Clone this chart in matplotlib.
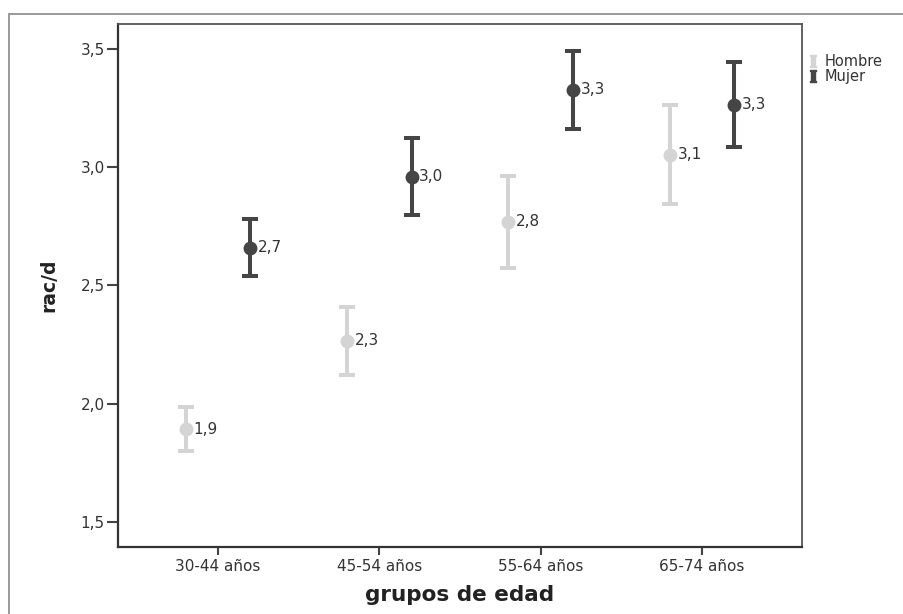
import matplotlib
matplotlib.use("Agg")
import matplotlib.pyplot as plt
from matplotlib.lines import Line2D
from matplotlib.patches import Rectangle
import numpy as np

plt.rcParams['font.family'] = ['DejaVu Sans']
plt.rcParams['mathtext.fontset'] = 'dejavuserif'

categories = ['30-44 años', '45-54 años', '55-64 años', '65-74 años']
series_names = ['Hombre', 'Mujer']
hombre_mean = [1.89, 2.265, 2.77, 3.055]
hombre_low = [1.80, 2.12, 2.575, 2.845]
hombre_high = [1.985, 2.41, 2.965, 3.265]
mujer_mean = [2.66, 2.96, 3.33, 3.265]
mujer_low = [2.54, 2.80, 3.165, 3.085]
mujer_high = [2.78, 3.125, 3.495, 3.445]
value_labels_h = ['1,9', '2,3', '2,8', '3,1']
value_labels_m = ['2,7', '3,0', '3,3', '3,3']
yticks = [1.5, 2.0, 2.5, 3.0, 3.5]
ytick_labels = ['1,5', '2,0', '2,5', '3,0', '3,5']

W, H = 904, 614
fig = plt.figure(figsize=(W / 100, H / 100), dpi=100)
ax = fig.add_axes([118 / W, 1 - 547 / H, 684 / W, 523 / H])

# outer frame
fig.add_artist(Rectangle((9 / W, -0.2), 2, 1.2 - 14 / H, transform=fig.transFigure,
                         fill=False, edgecolor='#9a9a9a', lw=1.4, clip_on=False))

x = np.arange(len(categories))
off = 0.2
col_h = '#d4d4d4'
col_m = '#454545'
txt_col = '#333333'

for xs, mean, lo, hi, col, labs in [
    (x - off, hombre_mean, hombre_low, hombre_high, col_h, value_labels_h),
    (x + off, mujer_mean, mujer_low, mujer_high, col_m, value_labels_m),
]:
    mean = np.array(mean); lo = np.array(lo); hi = np.array(hi)
    ax.errorbar(xs, mean, yerr=[mean - lo, hi - mean], fmt='o', color=col,
                ecolor=col, elinewidth=2.9, capsize=5.8, capthick=2.9,
                markersize=9, zorder=3)
    for xi, yi, lab in zip(xs, mean, labs):
        ax.annotate(lab, (xi, yi), xytext=(5.5, 0), textcoords='offset points',
                    ha='left', va='center', fontsize=11, color=txt_col)

ax.set_xlim(-0.62, 3.62)
ax.set_ylim(1.392, 3.608)
ax.set_xticks(x)
ax.set_xticklabels(categories, fontsize=11, color=txt_col)
ax.set_yticks(yticks)
ax.set_yticklabels(ytick_labels, fontsize=11, color=txt_col)
ax.tick_params(axis='y', length=8, width=1.5, color='#444444', pad=1.5)
ax.tick_params(axis='x', length=5.8, width=1.5, color='#444444', pad=3)
for s in ax.spines.values():
    s.set_color('#555555')
    s.set_linewidth(1.3)
ax.spines['left'].set_color('#333333')
ax.spines['bottom'].set_color('#333333')
ax.spines['left'].set_linewidth(1.6)
ax.spines['bottom'].set_linewidth(1.6)

ax.set_xlabel('grupos de edad', fontsize=15.5, fontweight='bold', color='#222222', labelpad=8)
ax.set_ylabel('rac/d', fontsize=13.5, fontweight='bold', color='#222222', labelpad=16)

handles = [Line2D([], [], linestyle='none', marker=r'$\mathbf{I}$', color=c, markersize=9)
           for c in (col_h, col_m)]
fig.legend(handles, series_names, loc='upper left',
           bbox_to_anchor=(808 / W, 1 - 54 / H), frameon=False, fontsize=10.5,
           handlelength=0.7, handletextpad=0.45, labelspacing=0.0, borderpad=0,
           borderaxespad=0, labelcolor=txt_col)

fig.savefig('out.png', dpi=100, facecolor='white')
